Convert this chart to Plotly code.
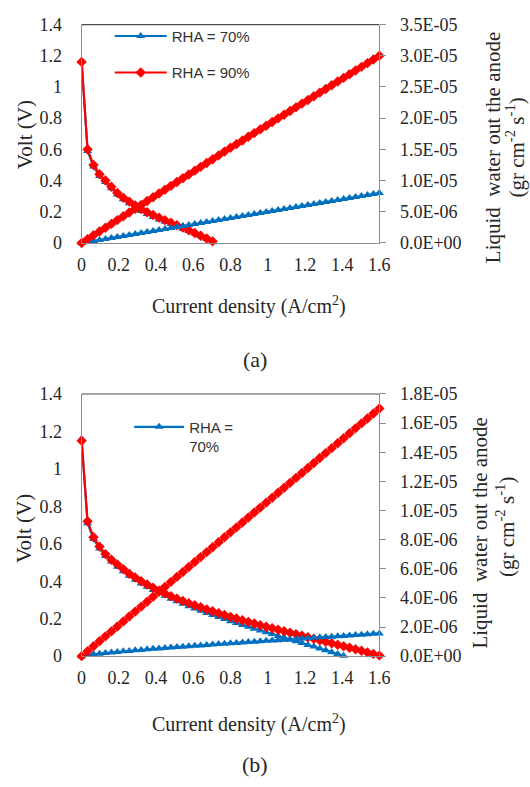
import plotly.graph_objects as go
from plotly.subplots import make_subplots

# Current density sample points (A/cm2)
current = [0, 0.032, 0.064, 0.096, 0.128, 0.16, 0.192, 0.224, 0.256, 0.288,
           0.32, 0.352, 0.384, 0.416, 0.448, 0.48, 0.512, 0.544, 0.576, 0.608,
           0.64, 0.672, 0.704, 0.736, 0.768, 0.8, 0.832, 0.864, 0.896, 0.928,
           0.96, 0.992, 1.024, 1.056, 1.088, 1.12, 1.152, 1.184, 1.216, 1.248,
           1.28, 1.312, 1.344, 1.376, 1.408, 1.44, 1.472, 1.504, 1.536, 1.568, 1.6]

# (a) cell voltage (V)
volt_a_70 = [1.17, 0.59, 0.49, 0.43, 0.39, 0.35, 0.31, 0.28, 0.255, 0.23,
             0.205, 0.185, 0.167, 0.151, 0.136, 0.121, 0.106, 0.091, 0.076, 0.06,
             0.043, 0.025, 0.008]
volt_a_90 = [1.16, 0.60, 0.50, 0.44, 0.40, 0.36, 0.32, 0.29, 0.265, 0.24,
             0.217, 0.197, 0.179, 0.162, 0.146, 0.13, 0.114, 0.098, 0.081, 0.064,
             0.046, 0.028, 0.01]

# (a) liquid water out of the anode (x1e-6 gr cm-2 s-1)
water_a_70 = [0, 0.15, 0.31, 0.47, 0.63, 0.79, 0.95, 1.11, 1.27, 1.43,
              1.59, 1.75, 1.91, 2.07, 2.23, 2.39, 2.55, 2.71, 2.87, 3.03,
              3.19, 3.35, 3.51, 3.67, 3.83, 3.99, 4.15, 4.31, 4.47, 4.63,
              4.79, 4.95, 5.11, 5.27, 5.43, 5.59, 5.75, 5.91, 6.07, 6.23,
              6.39, 6.55, 6.71, 6.87, 7.03, 7.19, 7.35, 7.51, 7.67, 7.83, 7.99]
water_a_90 = [0, 0.61, 1.22, 1.83, 2.44, 3.05, 3.66, 4.27, 4.88, 5.49,
              6.10, 6.71, 7.32, 7.93, 8.54, 9.15, 9.76, 10.37, 10.98, 11.59,
              12.20, 12.81, 13.42, 14.03, 14.64, 15.25, 15.84, 16.43, 17.02, 17.61,
              18.20, 18.79, 19.38, 19.97, 20.56, 21.15, 21.74, 22.33, 22.92, 23.51,
              24.10, 24.69, 25.28, 25.87, 26.46, 27.05, 27.64, 28.23, 28.82, 29.41, 30.00]

# (b) cell voltage (V)
volt_b_70 = [1.16, 0.71, 0.625, 0.575, 0.535, 0.505, 0.478, 0.453, 0.43, 0.408,
             0.388, 0.37, 0.353, 0.337, 0.322, 0.307, 0.293, 0.28, 0.267, 0.255,
             0.243, 0.231, 0.22, 0.209, 0.198, 0.187, 0.177, 0.167, 0.157, 0.147,
             0.137, 0.127, 0.118, 0.108, 0.099, 0.089, 0.079, 0.07, 0.06, 0.051,
             0.041, 0.031, 0.021, 0.011, 0.002]
volt_b_90 = [1.15, 0.72, 0.635, 0.585, 0.545, 0.515, 0.49, 0.465, 0.44, 0.42,
             0.40, 0.383, 0.366, 0.35, 0.335, 0.32, 0.307, 0.295, 0.283, 0.272,
             0.261, 0.25, 0.24, 0.23, 0.22, 0.21, 0.201, 0.192, 0.183, 0.174,
             0.165, 0.157, 0.149, 0.141, 0.133, 0.125, 0.117, 0.109, 0.101, 0.093,
             0.085, 0.077, 0.069, 0.061, 0.053, 0.045, 0.037, 0.029, 0.02, 0.012, 0.004]

# (b) liquid water out of the anode (x1e-6 gr cm-2 s-1)
water_b_70 = [0, 0.08, 0.13, 0.17, 0.21, 0.25, 0.29, 0.33, 0.36, 0.40,
              0.43, 0.47, 0.50, 0.53, 0.56, 0.59, 0.62, 0.65, 0.68, 0.71,
              0.74, 0.77, 0.80, 0.83, 0.86, 0.88, 0.91, 0.94, 0.97, 0.99,
              1.02, 1.05, 1.07, 1.10, 1.13, 1.15, 1.18, 1.21, 1.23, 1.26,
              1.29, 1.31, 1.34, 1.37, 1.39, 1.42, 1.45, 1.47, 1.50, 1.53, 1.56]
water_b_90 = [0, 0.34, 0.68, 1.02, 1.36, 1.70, 2.04, 2.38, 2.72, 3.06,
              3.40, 3.74, 4.08, 4.42, 4.76, 5.10, 5.44, 5.78, 6.12, 6.46,
              6.80, 7.14, 7.48, 7.82, 8.16, 8.50, 8.84, 9.18, 9.52, 9.86,
              10.20, 10.54, 10.88, 11.22, 11.56, 11.90, 12.24, 12.58, 12.92, 13.26,
              13.60, 13.94, 14.28, 14.62, 14.96, 15.30, 15.64, 15.98, 16.32, 16.66, 17.00]

volt_ticks = [0, 0.2, 0.4, 0.6, 0.8, 1.0, 1.2, 1.4]
cd_ticks = [0, 0.2, 0.4, 0.6, 0.8, 1.0, 1.2, 1.4, 1.6]
water_ticks_a = [0, 5e-6, 1e-5, 1.5e-5, 2e-5, 2.5e-5, 3e-5, 3.5e-5]
water_ticks_b = [0, 2e-6, 4e-6, 6e-6, 8e-6, 1e-5, 1.2e-5, 1.4e-5, 1.6e-5, 1.8e-5]

W, H = 530, 787
BLUE = "#0070C0"
RED = "#FF0000"
SERIF = "Liberation Serif, Times New Roman, serif"
SANS = "Liberation Sans, Arial, sans-serif"
TXT = "#262626"
AXIS = "#8C8C8C"

X0, X1 = 79, 386
PANELS = {1: (15, 239), 2: (394, 663)}


def px_x(p):
    return p / W


def px_y(p):
    return 1 - p / H


fig = make_subplots(rows=2, cols=1,
                    specs=[[{"secondary_y": True}], [{"secondary_y": True}]])


def add_series(row, volt, water, name, color, symbol, msize, legend, group, show):
    xs = current[:len(volt)]
    fig.add_trace(go.Scatter(
        x=xs, y=volt, mode="lines+markers", name=name,
        line=dict(color=color, width=2.2),
        marker=dict(symbol=symbol, size=msize, color=color),
        cliponaxis=False, showlegend=show, legend=legend, legendgroup=group,
    ), row=row, col=1, secondary_y=False)
    xs = current[:len(water)]
    fig.add_trace(go.Scatter(
        x=xs, y=[v * 1e-6 for v in water], mode="lines+markers", name=name,
        line=dict(color=color, width=2.2),
        marker=dict(symbol=symbol, size=msize, color=color),
        cliponaxis=False, showlegend=False, legendgroup=group,
    ), row=row, col=1, secondary_y=True)


add_series(1, volt_a_70, water_a_70, "RHA = 70%", BLUE, "triangle-up", 8, "legend", "a70", True)
add_series(1, volt_a_90, water_a_90, "RHA = 90%", RED, "diamond", 8, "legend", "a90", True)
add_series(2, volt_b_70, water_b_70, "RHA =<br>70%", BLUE, "triangle-up", 8, "legend2", "b70", True)
add_series(2, volt_b_90, water_b_90, "RHA = 90%", RED, "diamond", 8, "legend2", "b90", False)

tick_font = dict(family=SERIF, size=18, color=TXT)

for row, (top, bot) in PANELS.items():
    xa = "xaxis" if row == 1 else "xaxis2"
    ya = "yaxis" if row == 1 else "yaxis3"
    ya2 = "yaxis2" if row == 1 else "yaxis4"
    wt = water_ticks_a if row == 1 else water_ticks_b
    fig.layout[xa].update(
        domain=[px_x(X0), px_x(X1)], range=[0, 1.6], tickvals=cd_ticks,
        showgrid=False, zeroline=False, showline=True, linecolor=AXIS, linewidth=1,
        ticks="", tickfont=tick_font, ticklabelstandoff=5,
    )
    fig.layout[ya].update(
        domain=[px_y(bot), px_y(top)], range=[0, 1.4], tickvals=volt_ticks,
        showgrid=False, zeroline=False, showline=True, linecolor=AXIS, linewidth=1,
        ticks="", tickfont=tick_font, ticklabelstandoff=15,
    )
    fig.layout[ya2].update(
        range=[0, wt[-1]], tickvals=wt, ticktext=[f"{v:.1E}" for v in wt],
        showgrid=False, zeroline=False, showline=True, linecolor=AXIS, linewidth=1,
        ticks="outside", ticklen=6, tickcolor=AXIS, tickfont=tick_font,
        ticklabelstandoff=10,
    )
    # dark upper border of the plot area
    fig.add_shape(type="line", xref="paper", yref="paper",
                  x0=px_x(X0), x1=px_x(X1), y0=px_y(top), y1=px_y(top),
                  line=dict(color="#4D4D4D", width=1.2))

annotations = [
    dict(text="Volt (V)", x=20, y=128, size=21, angle=-90),
    dict(text="Volt (V)", x=20, y=532, size=21, angle=-90),
    dict(text="Liquid  water out the anode", x=504, y=141, size=21, angle=-90),
    dict(text="(gr cm<sup>-2</sup> s<sup>-1</sup>)", x=526, y=141, size=21, angle=-90),
    dict(text="Liquid  water out the anode", x=490, y=536, size=21, angle=-90),
    dict(text="(gr cm<sup>-2</sup> s<sup>-1</sup>)", x=516, y=530, size=21, angle=-90),
    dict(text="Current density (A/cm<sup>2</sup>)", x=252, y=303, size=20, angle=0),
    dict(text="Current density (A/cm<sup>2</sup>)", x=252, y=732, size=20, angle=0),
    dict(text="(a)", x=258, y=359, size=22, angle=0),
    dict(text="(b)", x=258, y=774, size=22, angle=0),
]
for a in annotations:
    fig.add_annotation(text=a["text"], x=px_x(a["x"]), y=px_y(a["y"]),
                       xref="paper", yref="paper", showarrow=False,
                       xanchor="center", yanchor="middle", textangle=a["angle"],
                       font=dict(family=SERIF, size=a["size"], color=TXT))

legend_font = dict(family=SANS, size=15, color="#333333")
fig.update_layout(
    width=W, height=H, margin=dict(l=0, r=0, t=0, b=0),
    paper_bgcolor="white", plot_bgcolor="white",
    legend=dict(x=px_x(108), y=px_y(10), xanchor="left", yanchor="top",
                bgcolor="rgba(0,0,0,0)", font=legend_font, tracegroupgap=14,
                traceorder="grouped", itemwidth=52),
    legend2=dict(x=px_x(128), y=px_y(411), xanchor="left", yanchor="top",
                 bgcolor="rgba(0,0,0,0)", font=legend_font, valign="top",
                 itemwidth=50),
)

fig.write_html("out.html")
